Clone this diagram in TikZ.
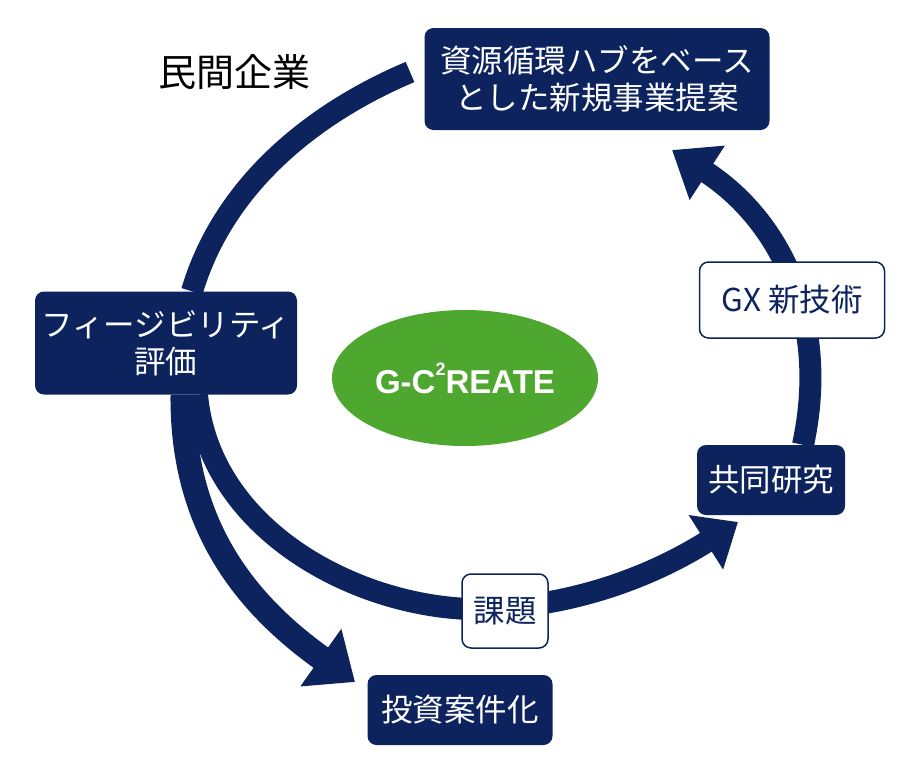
\documentclass[tikz,border=0pt]{standalone}
\usepackage{fontspec}
\setmainfont{Noto Sans CJK JP}
\newfontfamily\arialb{Liberation Sans}
\usetikzlibrary{arrows.meta,shapes.geometric}
\definecolor{navy}{RGB}{12,35,94}
\definecolor{grn}{RGB}{78,167,46}
\begin{document}
\begin{tikzpicture}[x=1pt,y=-1pt,
  dbox/.style={fill=navy,text=white,rounded corners=9pt,inner sep=0pt,align=center,font=\fontsize{31.5}{37}\selectfont},
  wbox/.style={fill=white,draw=navy,line width=1.5pt,text=navy,rounded corners=9pt,inner sep=0pt,font=\fontsize{31.5}{37}\selectfont},
  band/.style={draw=navy,line width=22pt},
]
\useasboundingbox (0,0) rectangle (919,769);
% nodes
\node[dbox,minimum width=345pt,minimum height=102pt] (top) at (597,79) {資源循環ハブをベース\\とした新規事業提案};
\node[dbox,minimum width=262pt,minimum height=103pt] (left) at (166,343) {フィージビリティ\\評価};
\node[dbox,minimum width=148pt,minimum height=70pt] (kyodo) at (771,480) {共同研究};
\node[dbox,minimum width=185pt,minimum height=70pt] (toshi) at (460,710) {投資案件化};
\node[fill=grn,ellipse,minimum width=266pt,minimum height=136pt] (ell) at (465,378) {};
\node[text=white,font=\arialb\bfseries\fontsize{33}{38}\selectfont] (g) at (ell) {G-C\raisebox{0.55em}{\fontsize{18}{18}\selectfont 2}REATE};
\node[font=\fontsize{38}{42}\selectfont] (min) at (234,72) {民間企業};
% arcs
\coordinate (a1) at (410,72);
\draw[band] (a1) .. controls (320,110) and (225,180) .. (left.north -| 192,0);
\draw[band,line width=25pt,-{Triangle[width=68pt,length=42pt]}] (left.south -| 183,0) .. controls (182,520) and (240,600) .. (355,682);
\draw[band,-{Triangle[width=62pt,length=38pt]}] (left.south -| 197,0) .. controls (210,540) and (380,620) .. (505,608) .. controls (600,600) and (670,565) .. (738,522);
\draw[band,-{Triangle[width=62pt,length=42pt]}] (kyodo.north -| 803,0) .. controls (830,320) and (780,220) .. (672,150);
\node[wbox,minimum width=185pt,minimum height=76pt] (gx) at (792,300) {GX 新技術};
\node[wbox,minimum width=86pt,minimum height=74pt] (kadai) at (505,611) {課題};
\end{tikzpicture}
\end{document}
